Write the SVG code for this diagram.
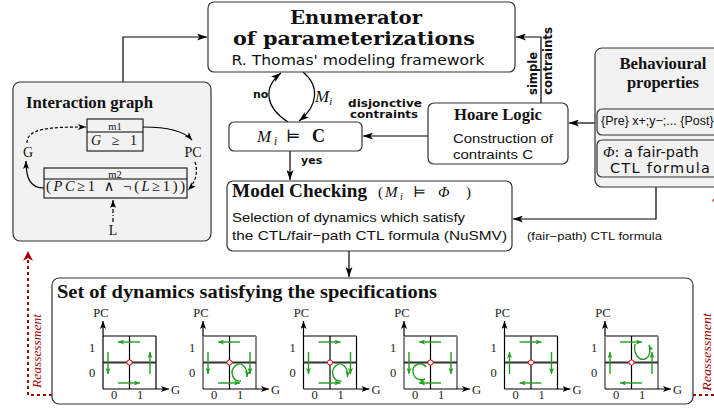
<svg xmlns="http://www.w3.org/2000/svg" width="714" height="410" viewBox="0 0 714 410">
<defs>
<style>
.box{fill:#fff;stroke:#333;stroke-width:1.2}
.gbox{fill:#f2f2f2;stroke:#333;stroke-width:1.2}
.ln{fill:none;stroke:#000;stroke-width:1.2}
.tb{font-family:"Liberation Serif","DejaVu Serif",serif;font-weight:bold;fill:#111}
.cm{font-family:"DejaVu Serif",serif;font-weight:bold;fill:#111}
.ss{font-family:"Liberation Sans",Arial,sans-serif;fill:#111}
.ds{font-family:"DejaVu Sans",sans-serif;fill:#111}
.dsb{font-family:"DejaVu Sans",sans-serif;font-weight:bold;fill:#111}
.mt{font-family:"Liberation Serif","DejaVu Serif",serif;fill:#111}
.it{font-style:italic}
.red{fill:#a30000;font-family:"Liberation Serif",serif;font-style:italic;font-size:13.5px}
.rdash{fill:none;stroke:#a30000;stroke-width:2;stroke-dasharray:3 3}
.gr{fill:none;stroke:#1f9e1f;stroke-width:1.4}
.pt{font-family:"Liberation Serif",serif;font-size:12.5px;fill:#222}
.sk{stroke:#000;stroke-width:1.2}
.sg{stroke:#888;stroke-width:2}
.hz{stroke:#333;stroke-width:2}
.rc{fill:#fff;stroke:#e00;stroke-width:1}
</style>
<marker id="ah" viewBox="0 0 10 7" refX="10" refY="3.5" markerWidth="10" markerHeight="7" markerUnits="userSpaceOnUse" orient="auto"><path d="M0,0L10,3.5L0,7L2.5,3.5z" fill="#000"/></marker>
<marker id="sa" viewBox="0 0 8 6" refX="8" refY="3" markerWidth="8" markerHeight="6" markerUnits="userSpaceOnUse" orient="auto"><path d="M0,0L8,3L0,6L2,3z" fill="#000"/></marker>
<marker id="ax" viewBox="0 0 8 6" refX="8" refY="3" markerWidth="8" markerHeight="6" markerUnits="userSpaceOnUse" orient="auto"><path d="M0,0L8,3L0,6L2,3z" fill="#000"/></marker>
<marker id="ga" viewBox="0 0 6 5" refX="6" refY="2.5" markerWidth="6" markerHeight="5" markerUnits="userSpaceOnUse" orient="auto"><path d="M0,0L6,2.5L0,5L1.5,2.5z" fill="#1f9e1f"/></marker>
<marker id="ra" viewBox="0 0 10 10" refX="10" refY="5" markerWidth="10" markerHeight="10" markerUnits="userSpaceOnUse" orient="auto"><path d="M0,0L10,5L0,10L3,5z" fill="#a30000"/></marker>
</defs>

<g id="connectors">
  <path class="ln" d="M123,82V37H207" marker-end="url(#ah)"/>
  <path class="ln" d="M541,103V37H516" marker-end="url(#ah)"/>
  <path class="ln" d="M597,123H569" marker-end="url(#ah)"/>
  <path class="ln" d="M428,136H363" marker-end="url(#ah)"/>
  <path class="ln" d="M290,151V180" marker-end="url(#ah)"/>
  <path class="ln" d="M656,177V219H513" marker-end="url(#ah)"/>
  <path class="ln" d="M349,251V277" marker-end="url(#ah)"/>
  <path class="ln" d="M288,122C266,108 262,88 281,73" marker-end="url(#ah)"/>
  <path class="ln" d="M303,72C320,86 318,106 299,121" marker-end="url(#ah)"/>
  <path class="rdash" d="M52,395H28V251" marker-end="url(#ra)"/>
  <path class="rdash" d="M693,395H717V192" marker-end="url(#ra)"/>
  <text class="dsb" x="253" y="98" font-size="11">no</text>
  <text class="mt it" x="315" y="102" font-size="17">M<tspan font-size="11" dy="3">i</tspan></text>
  <text class="dsb" x="301" y="164" font-size="11">yes</text>
  <text class="dsb" x="385" y="106.5" font-size="10" text-anchor="middle" textLength="74" lengthAdjust="spacingAndGlyphs">disjonctive</text>
  <text class="dsb" x="384" y="118" font-size="10" text-anchor="middle" textLength="68" lengthAdjust="spacingAndGlyphs">contraints</text>
  <text class="dsb" transform="translate(537,95) rotate(-90)" font-size="11.5" textLength="43" lengthAdjust="spacingAndGlyphs">simple</text>
  <text class="dsb" transform="translate(552,95) rotate(-90)" font-size="11.5" textLength="68" lengthAdjust="spacingAndGlyphs">contraints</text>
  <text class="ss" x="527" y="240" font-size="11.5" textLength="135" lengthAdjust="spacingAndGlyphs">(fair−path) CTL formula</text>
  <text class="red" transform="translate(41,351) rotate(-90)" text-anchor="middle" textLength="74" lengthAdjust="spacingAndGlyphs">Reassessment</text>
  <text class="red" transform="translate(711,352) rotate(-90)" text-anchor="middle" textLength="78" lengthAdjust="spacingAndGlyphs">Reassessment</text>
</g>

<g id="enumerator">
  <rect class="box" x="208" y="2" width="307" height="70" rx="6"/>
  <text class="cm" x="356" y="24" font-size="18" text-anchor="middle" textLength="132" lengthAdjust="spacingAndGlyphs">Enumerator</text>
  <text class="cm" x="354" y="45" font-size="18" text-anchor="middle" textLength="242" lengthAdjust="spacingAndGlyphs">of parameterizations</text>
  <text class="ds" x="358" y="65" font-size="13.5" text-anchor="middle" textLength="253" lengthAdjust="spacingAndGlyphs">R. Thomas' modeling framework</text>
</g>

<g id="interaction-graph">
  <rect class="gbox" x="13" y="82" width="198" height="159" rx="7"/>
  <text class="tb" x="26" y="108" font-size="16" textLength="127" lengthAdjust="spacingAndGlyphs">Interaction graph</text>
  <rect x="87" y="119" width="56" height="32" fill="#f2f2f2" stroke="#222" stroke-width="1.2"/>
  <line class="ln" x1="87" y1="132" x2="143" y2="132"/>
  <text class="mt" x="115" y="130" font-size="10.5" text-anchor="middle">m1</text>
  <text class="mt" x="91" y="145" font-size="14" textLength="46" lengthAdjust="spacing"><tspan class="it">G</tspan> ≥ 1</text>
  <rect x="44" y="168" width="143" height="30" fill="#f2f2f2" stroke="#222" stroke-width="1.2"/>
  <line class="ln" x1="44" y1="179" x2="187" y2="179"/>
  <text class="mt" x="115" y="177.5" font-size="10.5" text-anchor="middle">m2</text>
  <text class="mt" x="46" y="191" font-size="14.5" textLength="139" lengthAdjust="spacing">(<tspan class="it">PC</tspan>≥1 ∧ ¬(<tspan class="it">L</tspan>≥1))</text>
  <text class="mt" x="28" y="157" font-size="14" text-anchor="middle">G</text>
  <text class="mt" x="193" y="157" font-size="14" text-anchor="middle">PC</text>
  <text class="mt" x="113" y="235" font-size="14" text-anchor="middle">L</text>
  <path class="ln" d="M27,143C27,128 50,127 86,127" stroke-dasharray="3 2" marker-end="url(#sa)"/>
  <path class="ln" d="M143,127C168,127 184,131 192,140" marker-end="url(#sa)"/>
  <path class="ln" d="M195,162C199,174 194,184 188,190" stroke-dasharray="3 2" marker-end="url(#sa)"/>
  <path class="ln" d="M44,188C30,188 26,178 26,161" marker-end="url(#sa)"/>
  <path class="ln" d="M113,222V200" stroke-dasharray="4 2 1 2" marker-end="url(#sa)"/>
</g>

<g id="mi-check">
  <rect class="box" x="229" y="122" width="133" height="29" rx="5"/>
  <text class="mt" y="142" font-size="17"><tspan class="it" x="257">M</tspan><tspan class="it" font-size="11.5" x="274" dy="3">i</tspan><tspan x="286" dy="-3">⊨</tspan><tspan x="312" font-weight="bold" font-size="18">C</tspan></text>
</g>

<g id="hoare-logic">
  <rect class="box" x="428" y="103" width="140" height="61" rx="6"/>
  <text class="tb" x="498" y="120" font-size="16" text-anchor="middle" textLength="88" lengthAdjust="spacingAndGlyphs">Hoare Logic</text>
  <text class="ss" x="453" y="143" font-size="13.5" textLength="100" lengthAdjust="spacingAndGlyphs">Construction of</text>
  <text class="ss" x="453" y="159" font-size="13.5" textLength="80" lengthAdjust="spacingAndGlyphs">contraints C</text>
</g>

<g id="behavioural-properties">
  <rect class="gbox" x="595" y="48" width="150" height="139" rx="7"/>
  <text class="tb" x="663" y="69" font-size="16.5" text-anchor="middle" textLength="87" lengthAdjust="spacingAndGlyphs">Behavioural</text>
  <text class="tb" x="663" y="88" font-size="16.5" text-anchor="middle">properties</text>
  <rect class="gbox" x="597" y="109" width="150" height="26" rx="5"/>
  <text class="ss" x="601" y="125" font-size="12.5">{Pre} x+;y−;... {Post}</text>
  <rect class="gbox" x="597" y="140" width="150" height="37" rx="5"/>
  <text class="ds" y="157" font-size="14.5"><tspan class="mt it" x="603" font-size="15">Φ</tspan><tspan>: a fair-path</tspan></text>
  <text class="ds" x="610" y="173" font-size="14.5" textLength="100" lengthAdjust="spacing">CTL formula</text>
</g>

<g id="model-checking">
  <rect class="box" x="227" y="181" width="285" height="70" rx="6"/>
  <text class="tb" x="232" y="197" font-size="18.5" textLength="135" lengthAdjust="spacingAndGlyphs">Model Checking</text>
  <text class="mt" y="197" font-size="15"><tspan x="378">(</tspan><tspan class="it" x="385">M</tspan><tspan class="it" font-size="10.5" x="400" dy="3">i</tspan><tspan x="413" dy="-3">⊨</tspan><tspan class="it" x="438">Φ</tspan><tspan x="466">)</tspan></text>
  <text class="ss" x="232" y="222" font-size="13" textLength="233" lengthAdjust="spacingAndGlyphs">Selection of dynamics which satisfy</text>
  <text class="ss" x="232" y="240" font-size="13" textLength="275" lengthAdjust="spacingAndGlyphs">the CTL/fair−path CTL formula (NuSMV)</text>
</g>

<g id="set-of-dynamics">
  <rect class="box" x="52" y="278" width="641" height="126" rx="7"/>
  <text class="tb" x="57" y="298" font-size="18" textLength="380" lengthAdjust="spacingAndGlyphs">Set of dynamics satisfying the specifications</text>

  <g id="plot1" transform="translate(103,0)">
    <line class="ln" x1="0" y1="336" x2="53" y2="336"/>
    <line class="sk" x1="0" y1="336" x2="0" y2="389"/><line class="sk" x1="53" y1="336" x2="53" y2="389"/>
    <line class="ln" x1="0" y1="389" x2="66" y2="389" marker-end="url(#ax)"/>
    <line class="ln" x1="0" y1="336" x2="0" y2="321" marker-end="url(#ax)"/>
    <line class="ln" x1="26.5" y1="336" x2="26.5" y2="389"/>
    <line class="hz" x1="0" y1="362.5" x2="53" y2="362.5"/>
    <circle class="rc" cx="26.5" cy="362.5" r="2.6"/>
    <path class="gr" d="M37,342H15" marker-end="url(#ga)"/>
    <path class="gr" d="M5,352V374" marker-end="url(#ga)"/>
    <path class="gr" d="M47,374V352" marker-end="url(#ga)"/>
    <path class="gr" d="M15,383H37" marker-end="url(#ga)"/>
    <text class="pt" x="-2" y="317" text-anchor="middle">PC</text>
    <text class="pt" x="-11" y="352" text-anchor="middle">1</text>
    <text class="pt" x="-11" y="377" text-anchor="middle">0</text>
    <text class="pt" x="11" y="399" text-anchor="middle">0</text>
    <text class="pt" x="37" y="399" text-anchor="middle">1</text>
    <text class="pt" x="68" y="394">G</text>
  </g>

  <g id="plot2" transform="translate(203,0)">
    <line class="ln" x1="0" y1="336" x2="53" y2="336"/>
    <line class="sg" x1="0" y1="336" x2="0" y2="389"/><line class="sg" x1="53" y1="336" x2="53" y2="389"/>
    <line class="ln" x1="0" y1="389" x2="66" y2="389" marker-end="url(#ax)"/>
    <line class="ln" x1="0" y1="336" x2="0" y2="321" marker-end="url(#ax)"/>
    <line class="ln" x1="26.5" y1="336" x2="26.5" y2="389"/>
    <line class="hz" x1="0" y1="362.5" x2="53" y2="362.5"/>
    <circle class="rc" cx="26.5" cy="362.5" r="2.6"/>
    <path class="gr" d="M37,342H15" marker-end="url(#ga)"/>
    <path class="gr" d="M5,352V374" marker-end="url(#ga)"/>
    <path class="gr" d="M47,352V374" marker-end="url(#ga)"/>
    <path class="gr" d="M15,383H37" marker-end="url(#ga)"/>
    <path class="gr" d="M38,381C30,382 26,372 32,366C37,361 45,366 44,377" marker-end="url(#ga)"/>
    <text class="pt" x="-2" y="317" text-anchor="middle">PC</text>
    <text class="pt" x="-11" y="352" text-anchor="middle">1</text>
    <text class="pt" x="-11" y="377" text-anchor="middle">0</text>
    <text class="pt" x="11" y="399" text-anchor="middle">0</text>
    <text class="pt" x="37" y="399" text-anchor="middle">1</text>
    <text class="pt" x="68" y="394">G</text>
  </g>

  <g id="plot3" transform="translate(303.5,0)">
    <line class="ln" x1="0" y1="336" x2="53" y2="336"/>
    <line class="sk" x1="0" y1="336" x2="0" y2="389"/><line class="sk" x1="53" y1="336" x2="53" y2="389"/>
    <line class="ln" x1="0" y1="389" x2="66" y2="389" marker-end="url(#ax)"/>
    <line class="ln" x1="0" y1="336" x2="0" y2="321" marker-end="url(#ax)"/>
    <line class="ln" x1="26.5" y1="336" x2="26.5" y2="389"/>
    <line class="hz" x1="0" y1="362.5" x2="53" y2="362.5"/>
    <circle class="rc" cx="26.5" cy="362.5" r="2.6"/>
    <path class="gr" d="M15,342H37" marker-end="url(#ga)"/>
    <path class="gr" d="M5,352V374" marker-end="url(#ga)"/>
    <path class="gr" d="M47,352V374" marker-end="url(#ga)"/>
    <path class="gr" d="M15,383H37" marker-end="url(#ga)"/>
    <path class="gr" d="M38,381C30,382 26,372 32,366C37,361 45,366 44,377" marker-end="url(#ga)"/>
    <text class="pt" x="-2" y="317" text-anchor="middle">PC</text>
    <text class="pt" x="-11" y="352" text-anchor="middle">1</text>
    <text class="pt" x="-11" y="377" text-anchor="middle">0</text>
    <text class="pt" x="11" y="399" text-anchor="middle">0</text>
    <text class="pt" x="37" y="399" text-anchor="middle">1</text>
    <text class="pt" x="68" y="394">G</text>
  </g>

  <g id="plot4" transform="translate(404,0)">
    <line class="ln" x1="0" y1="336" x2="53" y2="336"/>
    <line class="sg" x1="0" y1="336" x2="0" y2="389"/><line class="sg" x1="53" y1="336" x2="53" y2="389"/>
    <line class="ln" x1="0" y1="389" x2="66" y2="389" marker-end="url(#ax)"/>
    <line class="ln" x1="0" y1="336" x2="0" y2="321" marker-end="url(#ax)"/>
    <line class="ln" x1="26.5" y1="336" x2="26.5" y2="389"/>
    <line class="hz" x1="0" y1="362.5" x2="53" y2="362.5"/>
    <circle class="rc" cx="26.5" cy="362.5" r="2.6"/>
    <path class="gr" d="M37,342H15" marker-end="url(#ga)"/>
    <path class="gr" d="M5,352V374" marker-end="url(#ga)"/>
    <path class="gr" d="M47,352V374" marker-end="url(#ga)"/>
    <path class="gr" d="M37,383H15" marker-end="url(#ga)"/>
    <path class="gr" d="M22,367C18,361 8,364 9,372C10,379 16,381 21,379" marker-end="url(#ga)"/>
    <text class="pt" x="-2" y="317" text-anchor="middle">PC</text>
    <text class="pt" x="-11" y="352" text-anchor="middle">1</text>
    <text class="pt" x="-11" y="377" text-anchor="middle">0</text>
    <text class="pt" x="11" y="399" text-anchor="middle">0</text>
    <text class="pt" x="37" y="399" text-anchor="middle">1</text>
    <text class="pt" x="68" y="394">G</text>
  </g>

  <g id="plot5" transform="translate(504.5,0)">
    <line class="ln" x1="0" y1="336" x2="53" y2="336"/>
    <line class="sk" x1="0" y1="336" x2="0" y2="389"/><line class="sk" x1="53" y1="336" x2="53" y2="389"/>
    <line class="ln" x1="0" y1="389" x2="66" y2="389" marker-end="url(#ax)"/>
    <line class="ln" x1="0" y1="336" x2="0" y2="321" marker-end="url(#ax)"/>
    <line class="ln" x1="26.5" y1="336" x2="26.5" y2="389"/>
    <line class="hz" x1="0" y1="362.5" x2="53" y2="362.5"/>
    <circle class="rc" cx="26.5" cy="362.5" r="2.6"/>
    <path class="gr" d="M15,342H37" marker-end="url(#ga)"/>
    <path class="gr" d="M5,374V352" marker-end="url(#ga)"/>
    <path class="gr" d="M47,352V374" marker-end="url(#ga)"/>
    <path class="gr" d="M37,383H15" marker-end="url(#ga)"/>
    <text class="pt" x="-2" y="317" text-anchor="middle">PC</text>
    <text class="pt" x="-11" y="352" text-anchor="middle">1</text>
    <text class="pt" x="-11" y="377" text-anchor="middle">0</text>
    <text class="pt" x="11" y="399" text-anchor="middle">0</text>
    <text class="pt" x="37" y="399" text-anchor="middle">1</text>
    <text class="pt" x="68" y="394">G</text>
  </g>

  <g id="plot6" transform="translate(605,0)">
    <line class="ln" x1="0" y1="336" x2="53" y2="336"/>
    <line class="sg" x1="0" y1="336" x2="0" y2="389"/><line class="sg" x1="53" y1="336" x2="53" y2="389"/>
    <line class="ln" x1="0" y1="389" x2="66" y2="389" marker-end="url(#ax)"/>
    <line class="ln" x1="0" y1="336" x2="0" y2="321" marker-end="url(#ax)"/>
    <line class="ln" x1="26.5" y1="336" x2="26.5" y2="389"/>
    <line class="hz" x1="0" y1="362.5" x2="53" y2="362.5"/>
    <circle class="rc" cx="26.5" cy="362.5" r="2.6"/>
    <path class="gr" d="M15,342H37" marker-end="url(#ga)"/>
    <path class="gr" d="M5,374V352" marker-end="url(#ga)"/>
    <path class="gr" d="M47,374V352" marker-end="url(#ga)"/>
    <path class="gr" d="M37,383H15" marker-end="url(#ga)"/>
    <path class="gr" d="M30,344C28,354 34,361 40,359C45,357 46,350 44,345" marker-end="url(#ga)"/>
    <text class="pt" x="-2" y="317" text-anchor="middle">PC</text>
    <text class="pt" x="-11" y="352" text-anchor="middle">1</text>
    <text class="pt" x="-11" y="377" text-anchor="middle">0</text>
    <text class="pt" x="11" y="399" text-anchor="middle">0</text>
    <text class="pt" x="37" y="399" text-anchor="middle">1</text>
    <text class="pt" x="68" y="394">G</text>
  </g>
</g>
</svg>
